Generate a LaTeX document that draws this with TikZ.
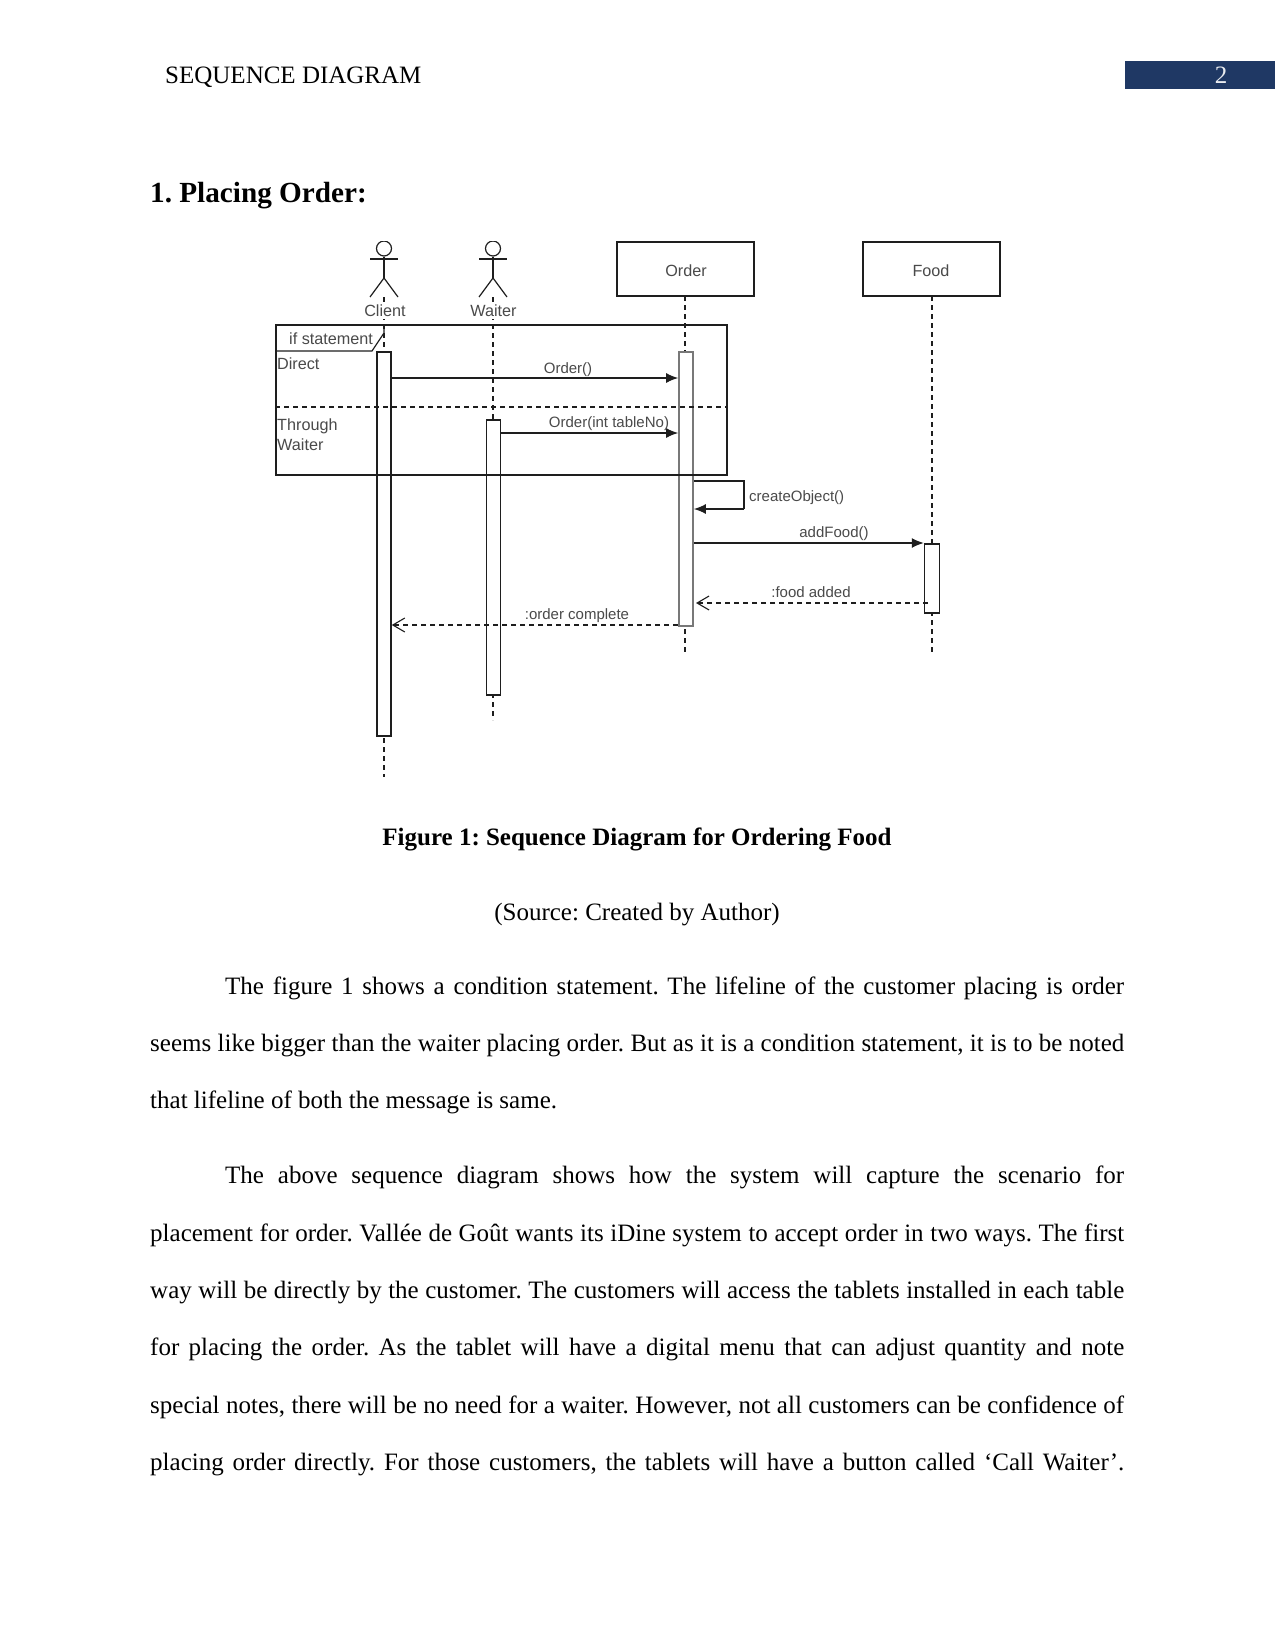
\documentclass[tikz,border=0pt]{standalone}
\usepackage{fontspec}
\setmainfont{Liberation Serif}
\newfontfamily\umlfont{Liberation Sans}
\usetikzlibrary{arrows.meta}
\definecolor{headerblue}{HTML}{1F3864}
\definecolor{umlline}{HTML}{1E1E1E}
\definecolor{umltext}{HTML}{4A4A4A}
\newcommand{\bodysize}{\frenchspacing\fontsize{25}{57.3}\selectfont}
\begin{document}
\begin{tikzpicture}[x=1pt,y=-1pt,
  umlbox/.style={draw=umlline,line width=1.5pt,fill=white,inner sep=0pt,minimum width=137pt,minimum height=54pt},
  bar/.style={draw=umlline,line width=1.5pt,fill=white,inner sep=0pt,minimum width=14pt},
  head/.style={circle,draw=umlline,line width=1.2pt,fill=white,inner sep=0pt,minimum size=15pt},
  stick/.style={draw=umlline,line width=1.2pt},
  lifeline/.style={draw=umlline,line width=1.1pt,dash pattern=on 5pt off 4pt},
  msg/.style={draw=umlline,line width=1.2pt,-{Latex[length=12pt,width=10pt]}},
  reply/.style={draw=umlline,line width=1.1pt,dash pattern=on 5pt off 4pt,-{Straight Barb[length=12pt,width=14pt]}},
  umllabel/.style={inner sep=0pt,text=umltext,font=\umlfont\fontsize{15}{19}\selectfont},
  framelabel/.style={inner sep=0pt,text=umltext,font=\umlfont\fontsize{16.2}{19.5}\selectfont},
  para/.style={anchor=north west,inner sep=0pt,text width=974pt,align=justify,font=\bodysize},
  pageline/.style={inner sep=0pt,font=\bodysize}]
\path[fill=white,use as bounding box] (0,0) rectangle (1275,1651);

\node [anchor=north west,fill=headerblue,inner sep=0pt,minimum width=150pt,minimum height=28pt] (pagebar) at (1125,61) {};
\node [pageline,text=white!90!headerblue] (pagenum) at (1221,75) {2};
\node [pageline,anchor=west] (runninghead) at (165,77) {SEQUENCE DIAGRAM};
\node [pageline,anchor=west,font=\frenchspacing\bfseries\fontsize{29.2}{35}\selectfont] (heading) at (150,196) {1. Placing Order:};

\begin{scope}
\clip (0,241.5) rectangle (1275,800);
\coordinate (clienttop) at (384,297);
\coordinate (clientend) at (384,777);
\coordinate (waitertop) at (493,297);
\coordinate (waiterend) at (493,720);
\coordinate (ordertop) at (685,296);
\coordinate (orderend) at (685,653);
\coordinate (foodtop) at (932,296);
\coordinate (foodend) at (932,653);
\draw [lifeline] (clienttop) -- (clientend);
\draw [lifeline] (waitertop) -- (waiterend);
\draw [lifeline] (ordertop) -- (orderend);
\draw [lifeline] (foodtop) -- (foodend);

\node [head] (clienthead) at (384,248.5) {};
\draw [stick] (clienthead.south) -- (384,278);
\draw [stick] (370,259) -- (398,259);
\draw [stick] (370,297) -- (384,278) -- (398,297);
\node [head] (waiterhead) at (493,248.5) {};
\draw [stick] (waiterhead.south) -- (493,278);
\draw [stick] (479,259) -- (507,259);
\draw [stick] (479,297) -- (493,278) -- (507,297);
\node [framelabel,fill=white,inner ysep=2pt] (clientname) at (385,311) {Client};
\node [framelabel,fill=white,inner ysep=2pt] (waitername) at (493.5,311) {Waiter};

\node [umlbox] (orderbox) at (685.5,269) {};
\node [framelabel] (ordername) at (686,271) {Order};
\node [umlbox] (foodbox) at (931.5,269) {};
\node [framelabel] (foodname) at (931,271) {Food};

\node [bar,anchor=north,minimum height=384pt] (clientbar) at (384,351) {};
\node [bar,anchor=north,minimum height=275pt] (waiterbar) at (493.5,419) {};
\node [bar,anchor=north,minimum height=274pt,draw=umlline!60!white,line width=1.8pt] (orderbar) at (686,351) {};
\node [bar,anchor=north,minimum height=69pt,minimum width=15pt] (foodbar) at (932,543) {};

\node [draw=umlline,line width=1.6pt,inner sep=0pt,minimum width=451pt,minimum height=150pt,anchor=north west] (ifframe) at (275,324) {};
\draw [stick] (384,324) -- (384,333) -- (372,351) -- (ifframe.west |- 0,351);
\draw [lifeline] (ifframe.west |- 0,407) -- (ifframe.east |- 0,407);
\node [framelabel,anchor=west] (iflabel) at (289,339) {if statement};
\node [framelabel,anchor=west] (directlabel) at (277,364) {Direct};
\node [framelabel,anchor=north west,align=left] (throughlabel) at (277,419) {Through\\Waiter};

\draw [msg] (clientbar.east |- 0,378) -- (orderbar.west |- 0,378);
\draw [msg] (waiterbar.east |- 0,433) -- (orderbar.west |- 0,433);
\draw [stick] (orderbar.east |- 0,481) -- (744,481) -- (744,509);
\coordinate (selfback) at (744,509);
\draw [msg] (selfback) -- (orderbar.east |- 0,509);
\draw [msg] (orderbar.east |- 0,543) -- (foodbar.west |- 0,543);
\draw [reply] (928,603) -- (696,603);
\draw [reply] (orderbar.west |- 0,625) -- (clientbar.east |- 0,625);

\node [umllabel] (ordercall) at (568,369.5) {Order()};
\node [umllabel] (ordertable) at (609,424) {Order(int tableNo)};
\node [umllabel,anchor=west] (createcall) at (749,498) {createObject()};
\node [umllabel] (addcall) at (834,534) {addFood()};
\node [umllabel] (foodreply) at (811,592.5) {:food added};
\node [umllabel] (orderreply) at (577,616) {:order complete};
\end{scope}

\node [pageline,font=\bfseries\bodysize] (caption) at (637,839) {Figure 1: Sequence Diagram for Ordering Food};
\node [pageline] (source) at (637,915) {(Source: Created by Author)};

\node [para] (firstpara) at (150,976.5) {\hspace*{75pt}The figure 1 shows a condition statement. The lifeline of the customer placing is order\linebreak
seems like bigger than the waiter placing order. But as it is a condition statement, it is to be noted\linebreak
that lifeline of both the message is same.};
\node [para] (secondpara) at (150,1166) {\hspace*{75pt}The above sequence diagram shows how the system will capture the scenario for\linebreak
placement for order. Vallée de Goût wants its iDine system to accept order in two ways. The first\linebreak
way will be directly by the customer. The customers will access the tablets installed in each table\linebreak
for placing the order. As the tablet will have a digital menu that can adjust quantity and note\linebreak
special notes, there will be no need for a waiter. However, not all customers can be confidence of\linebreak
placing order directly. For those customers, the tablets will have a button called ‘Call Waiter’.\parfillskip=0pt\par};
\end{tikzpicture}
\end{document}
